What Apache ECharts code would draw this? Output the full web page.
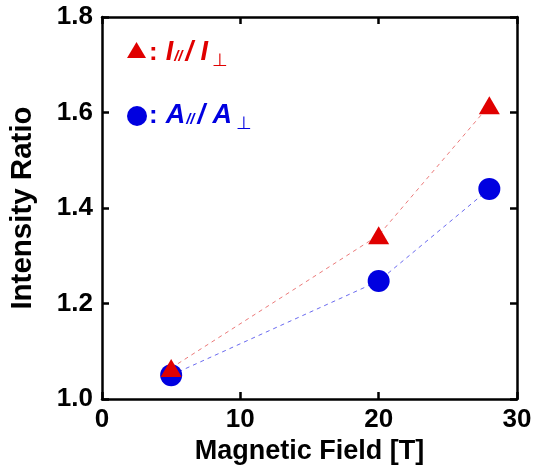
<!DOCTYPE html>
<html><head><meta charset="utf-8">
<script src="https://cdn.jsdelivr.net/npm/echarts@6/dist/echarts.min.js"></script>
<style>html,body{margin:0;padding:0;background:#fff}#c{width:539px;height:471px}</style>
</head><body><div id="c"></div>
<script>
const fields = [5, 20, 28];
const ratioI = [1.065, 1.343, 1.615];
const ratioA = [1.05, 1.247, 1.44];
const xTicks = [0, 10, 20, 30];
const yTicks = [1.0, 1.2, 1.4, 1.6, 1.8];

const FONT = '"Liberation Sans", Arial, sans-serif';
const RED = '#e00000', BLUE = '#0000e0';
const chart = echarts.init(document.getElementById('c'));
const axisCommon = {
  axisLine: {show: true, onZero: false, lineStyle: {color: '#000', width: 2.5}},
  axisTick: {show: true, inside: true, length: 7, lineStyle: {color: '#000', width: 2.5}},
  splitLine: {show: false}
};
function richFor(color) {
  return {
    c: {fill: color, color: color, fontFamily: FONT, fontWeight: 'bold', fontSize: 26, lineHeight: 26, verticalAlign: 'bottom', padding: [0, 8, 4, 0]},
    m: {fill: color, color: color, fontFamily: FONT, fontWeight: 'bold', fontStyle: 'italic', fontSize: 27, lineHeight: 27, verticalAlign: 'bottom', padding: [0, 0, 4, 0]},
    s: {fill: color, color: color, fontFamily: FONT, fontWeight: 'bold', fontStyle: 'italic', fontSize: 15, lineHeight: 15, verticalAlign: 'bottom', padding: [0, 3, 6, 1]},
    p: {fill: color, color: color, fontFamily: FONT, fontSize: 18, lineHeight: 18, verticalAlign: 'bottom', padding: [0, 0, 0, 4]}
  };
}
chart.setOption({
  backgroundColor: '#fff',
  animation: false,
  grid: {left: 99, right: 22, top: 17, bottom: 72},
  legend: [{
    left: 127, top: 42, padding: 0, itemWidth: 19, itemHeight: 16,
    data: [{name: 'I', icon: 'triangle'}],
    formatter: () => '', selectedMode: false
  }, {
    left: 127, top: 106, padding: 0, itemWidth: 20, itemHeight: 20,
    data: [{name: 'A', icon: 'circle'}],
    formatter: () => '', selectedMode: false
  }],
  graphic: [{
    type: 'text', left: 149, top: 39, silent: true,
    style: {text: '{c|:}{m|I}{s|//}{m|/ I}{p|⊥}', rich: richFor(RED), fill: RED}
  }, {
    type: 'text', left: 149, top: 102, silent: true,
    style: {text: '{c|:}{m|A}{s|//}{m|/ A}{p|⊥}', rich: richFor(BLUE), fill: BLUE}
  }],
  xAxis: [Object.assign({
    type: 'value', min: 0, max: 30, interval: 10, position: 'bottom',
    name: 'Magnetic Field [T]', nameLocation: 'middle', nameGap: 38,
    nameTextStyle: {fontFamily: FONT, fontWeight: 'bold', fontSize: 27, color: '#000'},
    axisLabel: {fontFamily: FONT, fontWeight: 'bold', fontSize: 26, color: '#000', margin: 8,
      formatter: v => xTicks.includes(v) ? String(v) : ''}
  }, axisCommon), Object.assign({
    type: 'value', min: 0, max: 30, interval: 10, position: 'top', axisLabel: {show: false}
  }, axisCommon)],
  yAxis: [Object.assign({
    type: 'value', min: 1.0, max: 1.8, interval: 0.2, position: 'left',
    name: 'Intensity Ratio', nameLocation: 'middle', nameGap: 64, nameRotate: 90,
    nameTextStyle: {fontFamily: FONT, fontWeight: 'bold', fontSize: 29.5, color: '#000'},
    axisLabel: {fontFamily: FONT, fontWeight: 'bold', fontSize: 26, color: '#000', margin: 9,
      formatter: v => yTicks.find(t => Math.abs(t - v) < 1e-6).toFixed(1)}
  }, axisCommon), Object.assign({
    type: 'value', min: 1.0, max: 1.8, interval: 0.2, position: 'right', axisLabel: {show: false}
  }, axisCommon)],
  series: [{
    name: 'A', type: 'line', z: 2,
    data: fields.map((f, i) => [f, ratioA[i]]),
    symbol: 'circle', symbolSize: 22,
    itemStyle: {color: BLUE},
    lineStyle: {color: '#6a6af0', width: 1, type: [4, 4]}
  }, {
    name: 'I', type: 'line', z: 3,
    data: fields.map((f, i) => [f, ratioI[i]]),
    symbol: 'triangle', symbolSize: [21, 18],
    itemStyle: {color: RED},
    lineStyle: {color: '#ec7a7a', width: 1, type: [4, 4]}
  }]
});
</script></body></html>
